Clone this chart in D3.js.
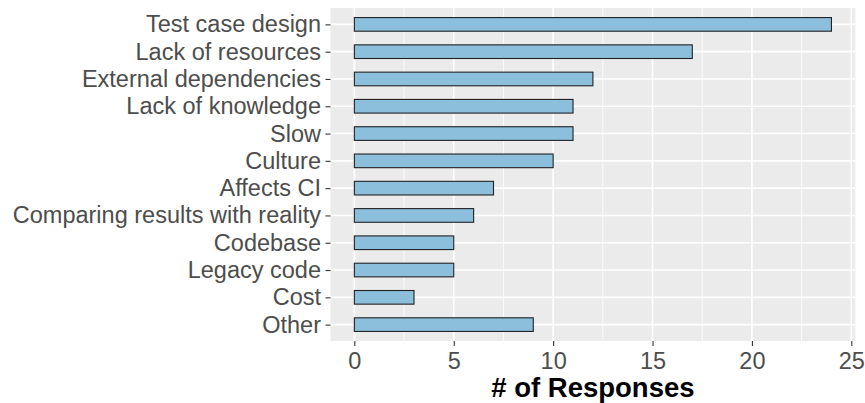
<!DOCTYPE html>
<html>
<head>
<meta charset="utf-8">
<script src="https://cdn.jsdelivr.net/npm/d3@7"></script>
<style>
  html, body { margin: 0; padding: 0; background: #fff; }
  svg { display: block; font-family: "Liberation Sans", Arial, Helvetica, sans-serif; }
</style>
</head>
<body>
<svg id="chart" width="865" height="403"></svg>
<script>
const categories = ["Test case design", "Lack of resources", "External dependencies", "Lack of knowledge", "Slow", "Culture", "Affects CI", "Comparing results with reality", "Codebase", "Legacy code", "Cost", "Other"];
const responses = [24, 17, 12, 11, 11, 10, 7, 6, 5, 5, 3, 9];
const xTicks = [0, 5, 10, 15, 20, 25];
const xMinor = [2.5, 7.5, 12.5, 17.5, 22.5];
const xTitle = "# of Responses";

const data = categories.map((c, i) => ({ cat: c, val: responses[i] }));

const panel = { left: 330.5, right: 855.3, top: 8, bottom: 341 };
const svg = d3.select("#chart");

const x = d3.scaleLinear().domain([-1.2, 25.2]).range([panel.left, panel.right]);
const yPoint = d3.scalePoint().domain(categories).range([panel.top, panel.bottom]).padding(0.6);
const step = yPoint.step();
const barH = step * 0.5;

svg.append("rect")
  .attr("x", panel.left).attr("y", panel.top)
  .attr("width", panel.right - panel.left).attr("height", panel.bottom - panel.top)
  .attr("fill", "#EBEBEB");

svg.append("g").selectAll("line").data(xMinor).join("line")
  .attr("x1", d => x(d)).attr("x2", d => x(d))
  .attr("y1", panel.top).attr("y2", panel.bottom)
  .attr("stroke", "#fff").attr("stroke-width", 0.8);

svg.append("g").selectAll("line").data(xTicks).join("line")
  .attr("x1", d => x(d)).attr("x2", d => x(d))
  .attr("y1", panel.top).attr("y2", panel.bottom)
  .attr("stroke", "#fff").attr("stroke-width", 1.6);

svg.append("g").selectAll("line").data(categories).join("line")
  .attr("x1", panel.left).attr("x2", panel.right)
  .attr("y1", d => yPoint(d)).attr("y2", d => yPoint(d))
  .attr("stroke", "#fff").attr("stroke-width", 1.6);

svg.append("g").selectAll("rect").data(data).join("rect")
  .attr("x", x(0))
  .attr("y", d => yPoint(d.cat) - barH / 2)
  .attr("width", d => x(d.val) - x(0))
  .attr("height", barH)
  .attr("fill", "#8BBFDC")
  .attr("stroke", "#222")
  .attr("stroke-width", 1.1);

const yAxis = d3.axisLeft(yPoint).tickSize(5).tickPadding(4.5);
const gy = svg.append("g").attr("transform", `translate(${panel.left},0)`).call(yAxis);
gy.select(".domain").remove();
gy.selectAll(".tick line").attr("stroke", "#333").attr("stroke-width", 1.1);
gy.selectAll(".tick text").attr("fill", "#4D4D4D").style("font-size", "23.5px")
  .style("font-family", '"Liberation Sans", Arial, sans-serif');

const xAxis = d3.axisBottom(x).tickValues(xTicks).tickSize(5).tickPadding(6.5);
const gx = svg.append("g").attr("transform", `translate(0,${panel.bottom})`).call(xAxis);
gx.select(".domain").remove();
gx.selectAll(".tick line").attr("stroke", "#333").attr("stroke-width", 1.1);
gx.selectAll(".tick text").attr("fill", "#4D4D4D").style("font-size", "23.5px")
  .style("font-family", '"Liberation Sans", Arial, sans-serif');

svg.append("text")
  .attr("x", (panel.left + panel.right) / 2)
  .attr("y", 397)
  .attr("text-anchor", "middle")
  .attr("fill", "#000")
  .style("font-size", "27.5px")
  .style("font-weight", "bold")
  .text(xTitle);
</script>
</body>
</html>
